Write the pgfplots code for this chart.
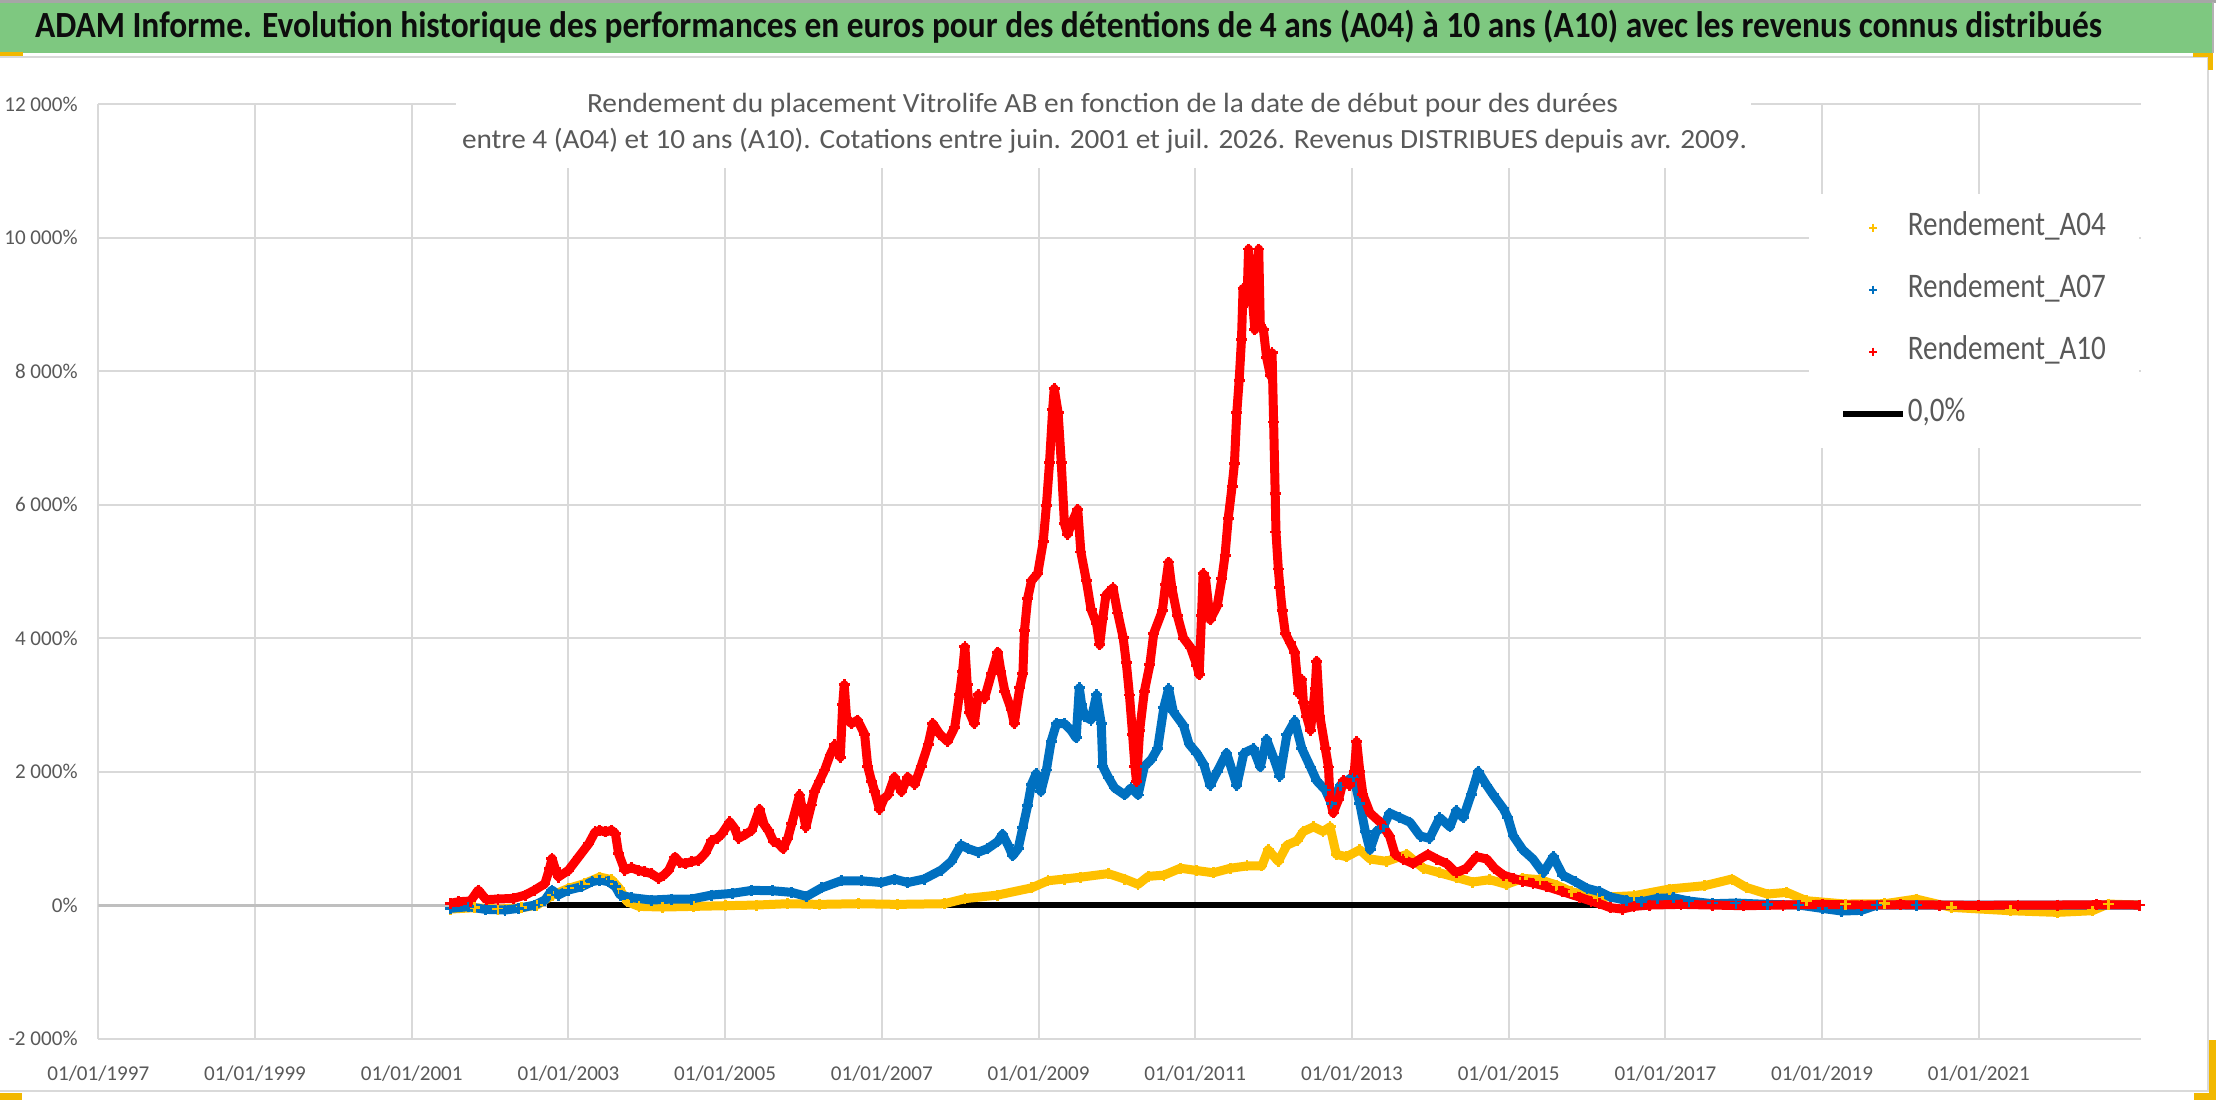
\documentclass[border=0pt]{standalone}
\usepackage{fontspec}
\setmainfont{Carlito}
\newfontfamily\legfont{Carlito}[FakeStretch=0.845]
\usepackage{pgfplots}
\pgfplotsset{compat=1.18}
\definecolor{cA04}{RGB}{255,192,0}
\definecolor{cA07}{RGB}{0,112,192}
\definecolor{cA10}{RGB}{255,0,0}
\definecolor{gridc}{RGB}{217,217,217}
\definecolor{zeroc}{RGB}{191,191,191}
\definecolor{txtc}{RGB}{89,89,89}
\definecolor{bannerc}{RGB}{126,200,128}
\definecolor{handlec}{RGB}{242,184,0}
\newsavebox\fitbox
\newcommand\fitx[2]{\sbox\fitbox{#2}\pgfmathsetmacro\fitfac{#1/\wd\fitbox}\scalebox{\fitfac}[1]{\usebox\fitbox}}
\pgfplotsset{
  serie/.style={forget plot, color=#1, line width=0.9mm, line join=round, mark=+, mark size=0.55mm, mark options={line width=0.28mm, solid}},
}
\begin{document}
\begin{tikzpicture}
\useasboundingbox (0,0) rectangle (221.6mm,110.2mm);
\fill[white] (0,0) rectangle (221.6mm,110.2mm);
\begin{scope}[x=0.1mm,y=-0.1mm,shift={(0,110.2mm)}]
  \fill[bannerc] (0,2) rectangle (2213,53);
  \draw[gray!70, line width=0.3mm] (0,1.5) -- (2216,1.5);
  \draw[gray!60, line width=0.2mm] (2213,2) -- (2213,53);
  \draw[gridc, line width=0.25mm] (0,57) -- (2208,57) -- (2208,1091) -- (0,1091);
  \node[anchor=base, inner sep=0pt, text=black!95] at (1068.5,38) {\fitx{206.7mm}{\fontsize{10.5}{12}\selectfont\bfseries ADAM Informe. Evolution historique des performances en euros pour des détentions de 4 ans (A04) à 10 ans (A10) avec les revenus connus distribués}};
\end{scope}
\begin{axis}[
  at={(9.83mm,6.35mm)}, anchor=south west,
  scale only axis, width=204.27mm, height=93.42mm,
  xmin=1997, xmax=2023.07, ymin=-2000, ymax=12000,
  scaled y ticks=false, scaled x ticks=false,
  axis line style={draw=none},
  major tick length=0pt,
  grid=major, major grid style={draw=gridc, line width=0.2mm},
  xtick={1997,1999,...,2021},
  xticklabels={01/01/1997,01/01/1999,01/01/2001,01/01/2003,01/01/2005,01/01/2007,01/01/2009,01/01/2011,01/01/2013,01/01/2015,01/01/2017,01/01/2019,01/01/2021},
  ytick={-2000,0,...,12000},
  yticklabels={-2 000\%,0\%,2 000\%,4 000\%,6 000\%,8 000\%,10 000\%,12 000\%},
  ticklabel style={font=\fontsize{6}{7}\selectfont, text=txtc, inner sep=0pt},
  yticklabel style={anchor=east, xshift=-2mm},
  xticklabel style={anchor=center, yshift=-3.5mm},
  legend style={at={(0.8370,0.9051)}, anchor=north west, draw=none, fill=white,
    inner xsep=3.15mm, inner ysep=1.9mm, row sep=3.2mm,
    font=\legfont\fontsize{9.8}{11}\selectfont, text=txtc,
    nodes={inner sep=0.15mm, text height=2.1mm, text depth=0.6mm}},
  legend cell align=left,
]
\addplot[forget plot, draw=zeroc, line width=0.3mm] coordinates {(1997,0) (2023.07,0)};
\addplot[forget plot, black, line width=0.6mm] coordinates {(2002.73,0) (2016.2,0)};
% Rendement_A04
\addplot[serie=cA04] table {
2001.49 -60
2001.80 -40
2002.10 -60
2002.40 -40
2002.60 0
2002.80 150
2003.00 250
2003.20 320
2003.40 420
2003.55 380
2003.65 250
2003.75 50
2003.90 -20
2004.20 -30
2004.60 -20
2005.00 -10
2005.40 0
2005.80 20
2006.20 10
2006.70 20
2007.20 10
2007.80 20
2008.06 96
2008.48 150
2008.91 257
2009.12 364
2009.33 390
2009.54 418
2009.89 471
2010.10 390
2010.27 310
2010.40 430
2010.60 448
2010.81 552
2011.02 517
2011.23 483
2011.45 552
2011.66 586
2011.85 586
2011.93 828
2012.06 655
2012.17 897
2012.30 966
2012.38 1103
2012.51 1172
2012.63 1103
2012.72 1172
2012.80 759
2012.93 724
2013.10 828
2013.23 690
2013.44 655
2013.70 759
2013.91 552
2014.12 483
2014.33 414
2014.54 345
2014.76 380
2014.97 310
2015.18 400
2015.40 380
2015.61 300
2015.80 200
2016.15 115
2016.60 140
2017.05 240
2017.50 290
2017.85 390
2018.03 265
2018.30 165
2018.55 190
2018.80 65
2019.30 15
2019.80 20
2020.20 90
2020.65 -35
2021.40 -85
2022.00 -110
2022.45 -85
2022.65 15
2023.05 0
};
% Rendement_A07
\addplot[serie=cA07] table {
2001.49 -50
2001.72 -25
2001.94 -65
2002.19 -75
2002.36 -50
2002.57 0
2002.70 75
2002.79 225
2002.87 150
2003.00 225
2003.17 275
2003.30 350
2003.40 375
2003.51 350
2003.60 275
2003.66 150
2003.81 110
2004.06 75
2004.32 90
2004.57 90
2004.83 150
2005.09 175
2005.34 220
2005.60 215
2005.85 190
2006.04 130
2006.23 257
2006.48 364
2006.74 364
2006.99 337
2007.16 390
2007.33 337
2007.54 390
2007.76 525
2007.89 658
2008.01 900
2008.10 846
2008.23 792
2008.35 846
2008.48 953
2008.54 1060
2008.61 900
2008.67 739
2008.74 846
2008.80 1167
2008.86 1488
2008.91 1809
2008.97 1970
2009.03 1700
2009.10 2023
2009.16 2450
2009.23 2720
2009.33 2720
2009.42 2610
2009.48 2505
2009.52 3255
2009.55 3000
2009.59 2826
2009.67 2773
2009.74 3150
2009.80 2720
2009.82 2077
2009.89 1915
2009.97 1756
2010.10 1650
2010.18 1756
2010.27 1650
2010.35 2077
2010.44 2184
2010.52 2345
2010.60 2966
2010.66 3240
2010.72 2897
2010.85 2690
2010.92 2414
2011.02 2276
2011.11 2103
2011.19 1793
2011.28 2000
2011.40 2276
2011.53 1793
2011.62 2276
2011.74 2345
2011.83 2069
2011.91 2483
2012.00 2207
2012.08 1931
2012.17 2552
2012.27 2759
2012.36 2345
2012.47 2069
2012.55 1862
2012.66 1724
2012.74 1517
2012.85 1793
2013.02 1931
2013.10 1517
2013.17 1103
2013.23 828
2013.31 1103
2013.40 1172
2013.48 1379
2013.61 1310
2013.74 1241
2013.87 1034
2013.99 1000
2014.12 1310
2014.25 1172
2014.33 1414
2014.42 1310
2014.52 1655
2014.61 2000
2014.72 1793
2014.80 1655
2014.93 1448
2014.99 1310
2015.06 1034
2015.18 828
2015.31 690
2015.44 483
2015.57 724
2015.69 448
2015.85 350
2016.00 250
2016.16 200
2016.30 120
2016.50 70
2016.70 50
2016.90 100
2017.10 110
2017.30 60
2017.60 20
2017.90 30
2018.30 10
2018.70 0
2019.00 -50
2019.25 -90
2019.50 -80
2019.70 0
2020.20 0
2021.00 0
2022.00 0
2023.05 0
};
% Rendement_A10
\addplot[serie=cA10] table {
2001.49 25
2001.60 50
2001.75 60
2001.85 225
2001.95 80
2002.10 90
2002.30 100
2002.45 150
2002.57 225
2002.70 320
2002.76 550
2002.79 700
2002.83 550
2002.87 420
2003.00 520
2003.13 720
2003.26 920
2003.34 1095
2003.40 1120
2003.47 1095
2003.55 1120
2003.60 1070
2003.64 770
2003.72 520
2003.80 560
2003.89 520
2003.97 500
2004.06 470
2004.15 400
2004.22 450
2004.28 520
2004.36 720
2004.42 640
2004.49 620
2004.57 650
2004.66 670
2004.75 780
2004.83 970
2004.90 1000
2004.96 1070
2005.06 1245
2005.12 1150
2005.17 1000
2005.25 1050
2005.34 1120
2005.44 1435
2005.50 1200
2005.55 1120
2005.62 950
2005.68 920
2005.74 845
2005.80 1000
2005.85 1220
2005.95 1650
2006.03 1167
2006.10 1500
2006.14 1700
2006.20 1850
2006.27 2023
2006.34 2250
2006.40 2400
2006.47 2215
2006.50 3000
2006.52 3300
2006.55 2800
2006.61 2720
2006.69 2770
2006.78 2560
2006.82 2077
2006.87 1850
2006.91 1700
2006.97 1435
2007.03 1600
2007.08 1650
2007.16 1915
2007.25 1700
2007.33 1915
2007.42 1810
2007.50 2077
2007.59 2400
2007.65 2720
2007.74 2560
2007.84 2450
2007.93 2665
2007.99 3150
2008.03 3500
2008.06 3870
2008.09 3300
2008.12 2880
2008.18 2720
2008.23 3150
2008.31 3095
2008.40 3470
2008.48 3790
2008.52 3500
2008.57 3200
2008.65 2935
2008.69 2720
2008.76 3255
2008.80 3470
2008.82 4110
2008.86 4590
2008.91 4860
2008.99 4970
2009.06 5450
2009.10 5985
2009.14 6630
2009.18 7430
2009.20 7740
2009.25 7376
2009.29 6630
2009.33 5717
2009.37 5556
2009.44 5770
2009.50 5930
2009.54 5290
2009.61 4860
2009.67 4430
2009.74 4218
2009.78 3900
2009.82 4300
2009.86 4646
2009.95 4753
2010.01 4378
2010.08 4004
2010.12 3629
2010.16 3147
2010.20 2558
2010.23 2077
2010.25 1850
2010.29 2612
2010.35 3200
2010.42 3600
2010.47 4070
2010.58 4410
2010.62 4800
2010.66 5140
2010.70 4760
2010.77 4345
2010.85 4000
2010.94 3860
2011.02 3590
2011.05 3450
2011.08 4345
2011.10 4966
2011.13 4900
2011.19 4276
2011.28 4483
2011.34 4897
2011.38 5240
2011.42 5790
2011.47 6276
2011.50 6620
2011.53 7380
2011.56 7860
2011.59 8480
2011.61 9240
2011.66 9035
2011.68 9830
2011.72 9240
2011.76 8620
2011.81 9830
2011.83 8690
2011.87 8620
2011.91 8207
2011.96 7930
2011.98 8276
2012.00 7240
2012.02 6170
2012.03 5590
2012.06 5035
2012.08 4760
2012.11 4414
2012.15 4070
2012.21 3930
2012.27 3790
2012.32 3170
2012.36 3380
2012.38 3035
2012.42 2830
2012.47 2620
2012.53 3240
2012.55 3655
2012.59 2830
2012.66 2345
2012.70 2070
2012.72 1586
2012.76 1380
2012.83 1586
2012.89 1862
2012.97 1793
2013.03 2000
2013.06 2450
2013.10 2000
2013.14 1655
2013.23 1380
2013.36 1241
2013.48 1034
2013.55 760
2013.65 690
2013.78 620
2013.87 690
2013.97 760
2014.08 690
2014.21 620
2014.33 483
2014.46 550
2014.59 725
2014.72 690
2014.82 550
2014.93 450
2015.06 400
2015.18 360
2015.31 330
2015.48 280
2015.69 200
2015.90 120
2016.05 60
2016.16 20
2016.30 -40
2016.45 -60
2016.60 -20
2016.80 0
2017.20 10
2017.60 0
2018.00 -10
2018.50 0
2019.00 10
2019.50 0
2020.00 5
2020.50 0
2021.00 -5
2021.50 0
2022.00 0
2022.50 5
2023.05 0
};
\addlegendimage{only marks, cA04, mark=+, mark size=0.4mm, mark options={line width=0.2mm}}
\addlegendentry{Rendement\_A04}
\addlegendimage{only marks, cA07, mark=+, mark size=0.4mm, mark options={line width=0.2mm}}
\addlegendentry{Rendement\_A07}
\addlegendimage{only marks, cA10, mark=+, mark size=0.4mm, mark options={line width=0.2mm}}
\addlegendentry{Rendement\_A10}
\addlegendimage{black, line width=0.6mm}
\addlegendentry{0,0\%}
\end{axis}
\begin{scope}[x=0.1mm,y=-0.1mm,shift={(0,110.2mm)}]
  \fill[white] (456,60) rectangle (1751,168);
  \node[anchor=base, inner sep=0pt, text=txtc] at (1102.5,113) {\fitx{103.1mm}{\fontsize{7.9}{9}\selectfont Rendement du placement Vitrolife AB en fonction de la date de début pour des durées}};
  \node[anchor=base, inner sep=0pt, text=txtc] at (1104.5,148.5) {\fitx{128.5mm}{\fontsize{7.9}{9}\selectfont entre 4 (A04) et 10 ans (A10). Cotations entre juin. 2001 et juil. 2026. Revenus DISTRIBUES depuis avr. 2009.}};
  \fill[handlec] (0,52) rectangle (23,56);
  \fill[handlec] (2193,53) rectangle (2213,57);
  \fill[handlec] (2208,53) rectangle (2213,70);
  \fill[handlec] (0,1093) rectangle (22,1100);
  \fill[handlec] (2209,1040) rectangle (2216,1100);
  \fill[handlec] (2194,1093) rectangle (2216,1100);
\end{scope}
\end{tikzpicture}
\end{document}
